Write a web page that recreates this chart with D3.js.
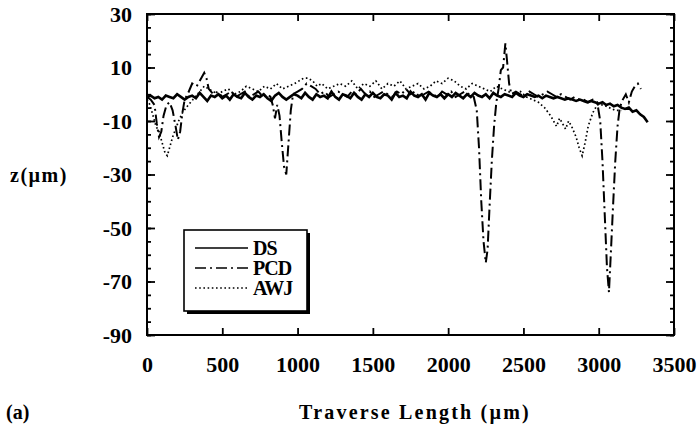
<!DOCTYPE html>
<html>
<head>
<meta charset="utf-8">
<script src="https://cdn.jsdelivr.net/npm/d3@7"></script>
<style>
  html, body { margin: 0; padding: 0; background: #fff; }
  svg { display: block; }
  text { font-family: "Liberation Serif", "Times New Roman", serif; font-weight: bold; fill: #000; }
</style>
</head>
<body>
<svg id="chart" width="699" height="429"></svg>
<script>
// ---------------- DATA ----------------
const xTicks = [0, 500, 1000, 1500, 2000, 2500, 3000, 3500];
const yTicks = [30, 10, -10, -30, -50, -70, -90];
const seriesNames = ["DS", "PCD", "AWJ"];

// DS profile, sampled every 25 µm from 0 to 3325 µm
const dsStep = 25;
const dsZ = [
  -1, -0.5, -1.5, -1, -2, -0.5, -1, -1.5, 0, -1, -2, -1, -0.5, -1.5, 0.5, -1, -2.5, -0.5, -1, 0,
  -1.5, -0.5, -2, 0, -1, -1.5, 0.5, -1, -2, -0.5, -1, 0, -1.5, -2.5, -0.5, 0.5, -1, -2, -1, 0,
  -0.5, -1.5, 0.5, -1, -2, 0, -1, -0.5, -1.5, 1, -1, -2, 0, -0.5, -1.5, 0.5, -1, -2, 0, -1,
  0.5, -1, -1.5, 0, -0.5, -2, 0.5, -1, -0.5, -1.5, 1, -0.5, -1, 0, -2, 0.5, -0.5, -1, 0, -1.5,
  0, -1, 0.5, -0.5, -1.5, 0, -1, 0.5, -0.5, -1, 0, -1.5, 0.5, -0.5, -1, 0, -0.5, -1, 0.5, -0.5,
  -1, 0, -0.5, -1, -0.5, -1.5, -0.5, -1, -1.5, -1, -1.5, -2, -1.5, -2, -2.5, -2, -2.5, -3, -2.5, -3,
  -3.5, -3, -4, -3.5, -4.5, -4, -5, -5.5, -5, -6.5, -6, -7.5, -8.5, -10.5
];

// PCD profile [x µm, z µm]
const pcdData = [
  [0,-1],[25,-2],[50,-4],[65,-11],[80,-16],[95,-14],[110,-8],[130,-4],[150,-3],[170,-6],
  [190,-12],[205,-17],[220,-14],[235,-7],[250,-2],[270,0],[300,4],[330,3],[360,6],[380,8],
  [395,6],[410,2],[440,0],[470,1],[500,-1],[530,0],[560,1],[590,-1],[620,0],[650,1],
  [680,-1],[710,0],[740,1],[770,-1],[800,0],[820,-1],[835,-4],[850,-9],[865,-4],[880,-8],
  [895,-18],[910,-27],[925,-30],[940,-18],[955,-6],[970,0],[1000,1],[1030,2],[1060,4],[1090,3],
  [1120,2],[1150,0],[1180,1],[1210,-1],[1240,0],[1270,1],[1300,0],[1330,-1],[1360,1],[1390,0],
  [1420,2],[1450,0],[1480,1],[1510,-1],[1540,0],[1570,1],[1600,0],[1630,-1],[1660,1],[1690,0],
  [1720,2],[1750,0],[1780,1],[1810,-1],[1840,0],[1870,1],[1900,0],[1930,-1],[1960,1],[1990,0],
  [2020,1],[2050,-1],[2080,0],[2110,1],[2140,0],[2170,-1],[2190,-6],[2205,-20],[2220,-40],[2235,-55],
  [2250,-63],[2262,-58],[2275,-42],[2290,-25],[2305,-12],[2320,-3],[2335,2],[2350,9],[2365,10],[2380,19],
  [2392,12],[2405,4],[2420,0],[2450,1],[2480,0],[2510,-1],[2540,1],[2570,0],[2600,-1],[2630,0],
  [2660,1],[2690,0],[2720,-1],[2750,0],[2780,-1],[2810,-2],[2840,-1],[2870,-2],[2900,-2],[2930,-3],
  [2960,-2],[2990,-3],[3010,-10],[3025,-25],[3040,-45],[3055,-65],[3068,-74],[3080,-60],[3095,-42],[3110,-25],
  [3125,-12],[3140,-5],[3160,-2],[3180,0],[3200,-3],[3220,1],[3240,3],[3260,4],[3280,2]
];

// AWJ profile [x µm, z µm]
const awjData = [
  [0,-2],[20,-4],[40,-8],[60,-12],[80,-14],[100,-18],[120,-22],[135,-23],[150,-20],[170,-16],
  [190,-13],[210,-10],[235,-7],[260,-5],[290,-3],[320,-1],[350,1],[380,3],[410,2],[440,1],
  [470,0],[500,1],[540,2],[580,0],[620,1],[660,3],[700,2],[740,1],[780,3],[820,2],
  [860,4],[900,2],[940,3],[980,4],[1010,5],[1040,6],[1070,6],[1100,5],[1130,3],[1160,4],
  [1200,2],[1240,3],[1280,4],[1320,3],[1360,5],[1400,2],[1440,4],[1480,3],[1520,5],[1560,2],
  [1600,4],[1640,3],[1680,5],[1720,2],[1760,3],[1800,4],[1840,2],[1880,3],[1920,5],[1960,4],
  [2000,6],[2040,5],[2080,3],[2120,2],[2160,4],[2200,3],[2240,2],[2280,1],[2320,3],[2360,2],
  [2400,1],[2440,0],[2480,1],[2520,-1],[2560,-2],[2600,-3],[2640,-5],[2680,-8],[2700,-10],[2720,-12],
  [2740,-9],[2760,-11],[2780,-13],[2800,-10],[2820,-12],[2850,-16],[2870,-20],[2890,-23],[2910,-18],[2930,-12],
  [2960,-7],[2990,-4],[3030,-4],[3070,-5],[3110,-6],[3150,-6]
];

// ---------------- CHART ----------------
const svg = d3.select("#chart");
const L = 147, R = 674, T = 14, B = 335;

const x = d3.scaleLinear().domain([0, 3500]).range([L, R]);
const y = d3.scaleLinear().domain([-90, 30]).range([B, T]);

const dsData = dsZ.map((z, i) => [i * dsStep, z]);

const line = d3.line().x(d => x(d[0])).y(d => y(d[1]));

const plot = svg.append("g");
plot.append("path").datum(awjData).attr("d", line)
  .attr("fill", "none").attr("stroke", "#000").attr("stroke-width", 1.7)
  .attr("stroke-dasharray", "1.6,2.6");
plot.append("path").datum(pcdData).attr("d", line)
  .attr("fill", "none").attr("stroke", "#000").attr("stroke-width", 2)
  .attr("stroke-dasharray", "11,4,2,4");
plot.append("path").datum(dsData).attr("d", line)
  .attr("fill", "none").attr("stroke", "#000").attr("stroke-width", 2.6);

// axes
const hyphenFmt = d => String(d); // plain hyphen-minus, as in the original
const minorY = d3.range(-90, 31, 5);
function styleAxis(g) {
  g.select(".domain").remove();
  g.selectAll(".tick line").attr("stroke", "#000").attr("stroke-width", 1.8);
}
// left
svg.append("g").attr("transform", `translate(${L},0)`)
  .call(d3.axisLeft(y).tickValues(minorY).tickSize(-4).tickFormat(""))
  .call(styleAxis);
const leftAxis = svg.append("g").attr("transform", `translate(${L},0)`)
  .call(d3.axisLeft(y).tickValues(yTicks).tickSize(-8).tickPadding(15).tickFormat(hyphenFmt))
  .call(styleAxis);
leftAxis.selectAll(".tick text")
  .attr("font-size", 22).attr("font-family", "Liberation Serif").attr("font-weight", "bold")
  .attr("dy", "0.34em");
// right
svg.append("g").attr("transform", `translate(${R},0)`)
  .call(d3.axisRight(y).tickValues(minorY).tickSize(-4).tickFormat(""))
  .call(styleAxis);
svg.append("g").attr("transform", `translate(${R},0)`)
  .call(d3.axisRight(y).tickValues(yTicks).tickSize(-8).tickFormat(""))
  .call(styleAxis);
// top
svg.append("g").attr("transform", `translate(0,${T})`)
  .call(d3.axisTop(x).tickValues(xTicks).tickSize(-7).tickFormat(""))
  .call(styleAxis);
// bottom
const bottomAxis = svg.append("g").attr("transform", `translate(0,${B})`)
  .call(d3.axisBottom(x).tickValues(xTicks).tickSize(-7).tickFormat(hyphenFmt))
  .call(styleAxis);
bottomAxis.selectAll(".tick text")
  .attr("font-size", 22).attr("font-family", "Liberation Serif").attr("font-weight", "bold")
  .attr("y", 37).attr("dy", 0);

// frame
svg.append("rect").attr("x", L).attr("y", T).attr("width", R - L).attr("height", B - T)
  .attr("fill", "none").attr("stroke", "#000").attr("stroke-width", 2);

// axis titles
svg.append("text").attr("x", 10).attr("y", 182).attr("font-size", 20)
  .attr("letter-spacing", 1.5).text("z(µm)");
svg.append("text").attr("x", 6).attr("y", 419).attr("font-size", 20).text("(a)");
svg.append("text").attr("x", 415).attr("y", 419).attr("font-size", 20)
  .attr("text-anchor", "middle").attr("letter-spacing", 2.2).text("Traverse Length (µm)");

// legend
const lg = svg.append("g");
lg.append("rect").attr("x", 187).attr("y", 233).attr("width", 123).attr("height", 81).attr("fill", "#000");
lg.append("rect").attr("x", 184).attr("y", 230).attr("width", 123).attr("height", 81)
  .attr("fill", "#fff").attr("stroke", "#000").attr("stroke-width", 1.6);
const dashes = [null, "11,4,2,4", "1.6,2.6"];
const widths = [1.6, 1.6, 1.6];
seriesNames.forEach((name, i) => {
  const yy = 248 + i * 20;
  const ln = lg.append("line").attr("x1", 195).attr("x2", 248).attr("y1", yy).attr("y2", yy)
    .attr("stroke", "#000").attr("stroke-width", widths[i]);
  if (dashes[i]) ln.attr("stroke-dasharray", dashes[i]);
  lg.append("text").attr("x", 253).attr("y", yy + 7).attr("font-size", 20)
    .attr("letter-spacing", -1).text(name);
});
</script>
</body>
</html>
